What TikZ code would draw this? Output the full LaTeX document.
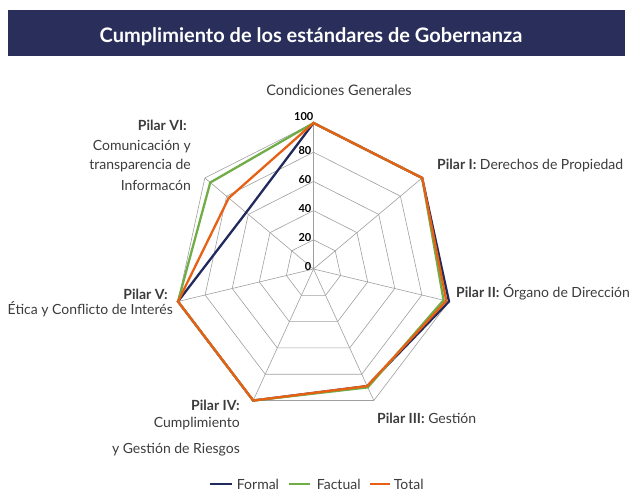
\documentclass[tikz,border=0pt]{standalone}
\usepackage{fontspec}
\setmainfont{Lato}
\definecolor{barblue}{RGB}{41,47,90}
\definecolor{formal}{RGB}{33,42,92}
\definecolor{factual}{RGB}{112,173,71}
\definecolor{total}{RGB}{232,96,20}
\definecolor{txt}{RGB}{60,60,60}
\begin{document}
\begin{tikzpicture}[x=1pt,y=-1pt,
    lbl/.style={font=\fontsize{14}{16}\selectfont,text=txt,inner sep=0pt},
    tick/.style={font=\bfseries\fontsize{11}{12}\selectfont,inner sep=0pt},
    grid/.style={gray!75,line width=0.6pt},
    serie/.style={line width=2.3pt,line join=miter}]
    \useasboundingbox (0,0) rectangle (633,491);
    \fill[barblue] (8,10) rectangle (625,56);
    \node[text=white,font=\bfseries\fontsize{20}{24}\selectfont,anchor=base] (title) at (311,42) {Cumplimiento de los estándares de Gobernanza};

    \begin{scope}[shift={(313.5,269)}]
    \begin{scope}[x=139pt,y=146pt]
      % rejilla
      \foreach \r in {.2,.4,.6,.8,1}
        \draw[grid] (90:\r) \foreach \k in {1,...,6}{ -- ({90-\k*360/7}:\r) } -- cycle;
      \foreach \k in {0,...,6}
        \draw[grid] (0,0) -- ({90-\k*360/7}:1);

      % escala
      \foreach \r/\t in {0/0,.2/20,.4/40,.6/60,.8/80}
        \node[tick,anchor=east,xshift=-2pt,yshift=2pt] (t\t) at (90:\r) {\t};
      \node[tick,anchor=south east,yshift=2pt] (t100) at (90:1) {100};

      % series
      \draw[serie,formal] (90:1) -- (38.57:1) -- (-12.86:1) -- (-64.29:.89) -- (-115.71:1) -- (-167.14:1) -- (-218.57:.62) -- cycle;
      \draw[serie,factual] (90:1) -- (38.57:1) -- (-12.86:.96) -- (-64.29:.90) -- (-115.71:1) -- (-167.14:1) -- (-218.57:.95) -- cycle;
      \draw[serie,total] (90:1) -- (38.57:1) -- (-12.86:.98) -- (-64.29:.89) -- (-115.71:1) -- (-167.14:1) -- (-218.57:.78) -- cycle;
    \end{scope}
    \end{scope}

    % etiquetas
    \node[lbl,anchor=base,font=\fontsize{14.5}{16}\selectfont] (cg) at (339,95) {Condiciones Generales};
    \node[lbl,anchor=base west] (p1) at (437,169) {\textbf{Pilar I:} Derechos de Propiedad};
    \node[lbl,anchor=base west] (p2) at (456,297) {\textbf{Pilar II:} Órgano de Dirección};
    \node[lbl,anchor=base west] (p3) at (377,423) {\textbf{Pilar III:} Gestión};
    \node[lbl,anchor=base east] (p4) at (240,410) {\textbf{Pilar IV:}};
    \node[lbl,anchor=base east] (p4a) at (240,427) {Cumplimiento};
    \node[lbl,anchor=base east] (p4b) at (240,453) {y Gestión de Riesgos};
    \node[lbl,anchor=base east] (p5) at (168,299) {\textbf{Pilar V:}};
    \node[lbl,anchor=base east] (p5a) at (173,314) {Ética y Conflicto de Interés};
    \node[lbl,anchor=base east] (p6) at (187,130) {\textbf{Pilar VI:}};
    \node[lbl,anchor=base east] (p6a) at (191,150) {Comunicación y};
    \node[lbl,anchor=base east] (p6b) at (191,169) {transparencia de};
    \node[lbl,anchor=base east] (p6c) at (191,190) {Informacón};

    % leyenda
    \coordinate (l1) at (210,484);
    \coordinate (l2) at (289,484);
    \coordinate (l3) at (370,484);
    \draw[formal,line width=1.8pt] (l1) -- ++(22,0) node[lbl,anchor=west,xshift=4pt] (lf) {Formal};
    \draw[factual,line width=1.8pt] (l2) -- ++(21,0) node[lbl,anchor=west,xshift=6pt] (lfa) {Factual};
    \draw[total,line width=1.8pt] (l3) -- ++(20,0) node[lbl,anchor=west,xshift=3pt] (lt) {Total};
\end{tikzpicture}
\end{document}
